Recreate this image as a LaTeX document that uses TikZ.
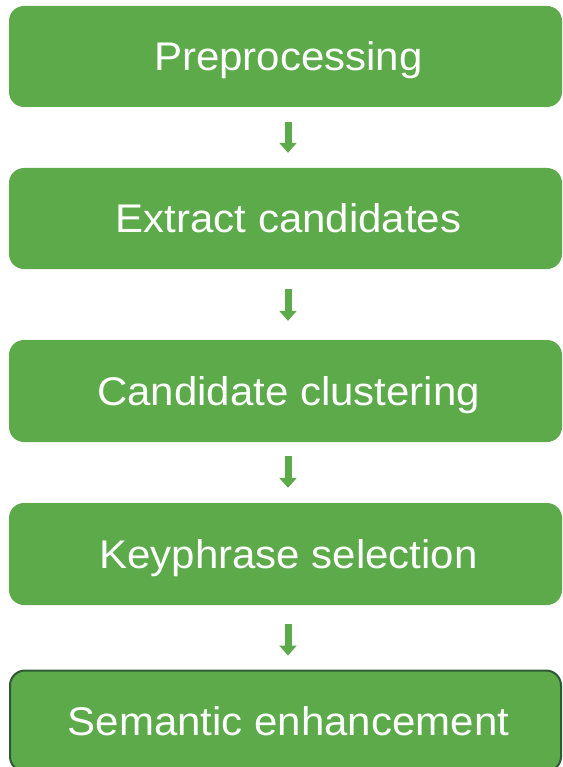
\documentclass[tikz,border=0pt]{standalone}
\usepackage{fontspec}
\setmainfont{Liberation Sans}
\newfontfamily\stepfont[FakeStretch=1.05]{Liberation Sans}
\usetikzlibrary{arrows.meta}
\definecolor{stepgreen}{HTML}{5CAA4A}
\definecolor{stepedge}{HTML}{2D5A35}
\begin{document}
\begin{tikzpicture}[x=1pt,y=-1pt,
  stepbox/.style={fill=stepgreen,draw=none,rounded corners=15pt,
    minimum width=553pt,minimum height=101pt,inner sep=0pt,
    text=white,font=\stepfont\fontsize{40}{40}\selectfont,
    text height=28.6pt,text depth=0pt},
  lastbox/.style={stepbox,draw=stepedge,line width=2pt},
  flow/.style={draw=stepgreen,line width=7pt,
    -{Triangle[width=17pt,length=10pt]}}]
  \useasboundingbox (0,0) rectangle (562,767);
  \clip (0,0) rectangle (562,767);
  \node[stepbox] (pre) at (285.5,56.5) {\hspace*{6pt}Preprocessing};
  \node[stepbox] (ext) at (285.5,218.5) {\hspace*{6pt}Extract candidates};
  \node[stepbox,minimum height=102pt] (clu) at (285.5,391) {\hspace*{6pt}Candidate clustering};
  \node[stepbox,minimum height=102pt] (key) at (285.5,554) {\hspace*{6pt}Keyphrase selection};
  \node[lastbox,minimum width=551pt] (sem) at (285.5,721) {\hspace*{6pt}Semantic enhancement};
  \draw[flow,shorten <=15pt,shorten >=15pt] (pre.south -| 288,0) -- (ext.north -| 288,0);
  \draw[flow,shorten <=20pt,shorten >=19pt] (ext.south -| 288,0) -- (clu.north -| 288,0);
  \draw[flow,shorten <=14pt,shorten >=15pt] (clu.south -| 288,0) -- (key.north -| 288,0);
  \draw[flow,shorten <=19pt,shorten >=14pt] (key.south -| 288,0) -- (sem.north -| 288,0);
\end{tikzpicture}
\end{document}
